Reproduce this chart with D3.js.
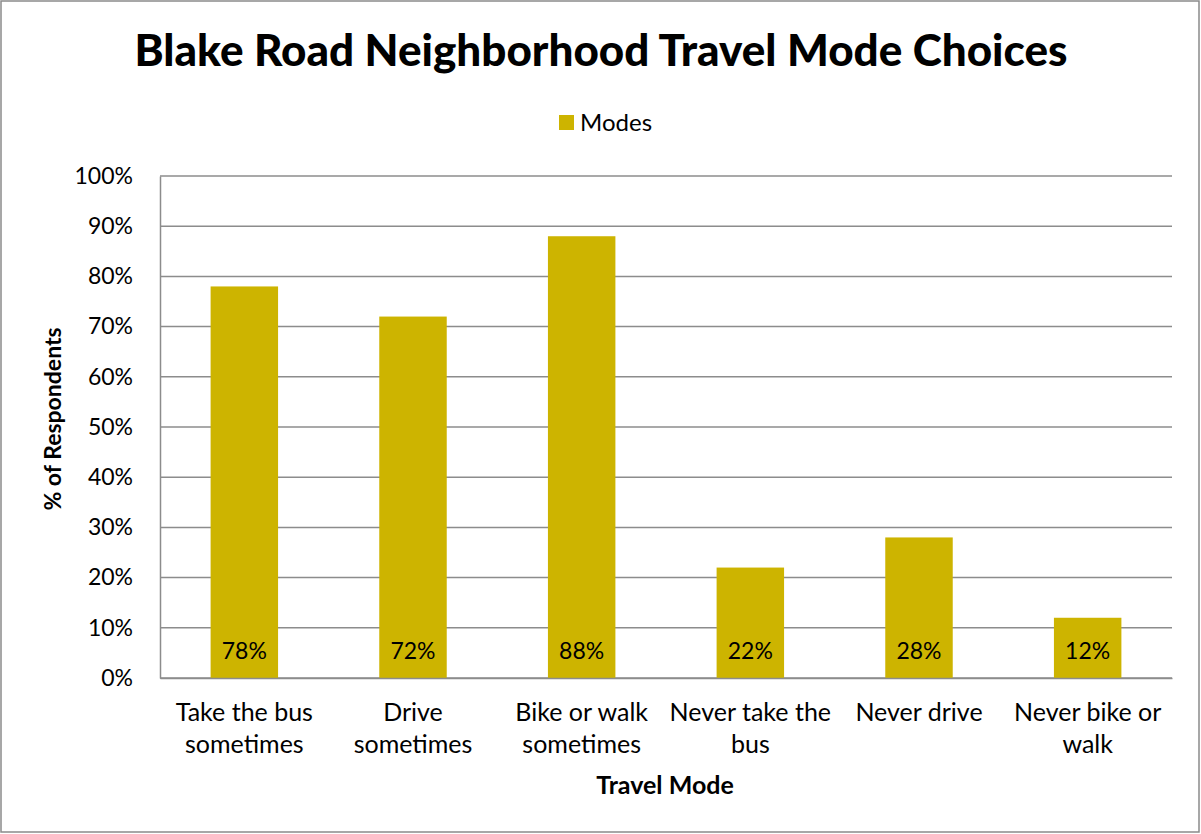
<!DOCTYPE html>
<html>
<head>
<meta charset="utf-8">
<script src="https://cdn.jsdelivr.net/npm/d3@7"></script>
<style>
  body { margin: 0; background: #fff; }
  svg { display: block; }
  text { font-family: Lato, "Open Sans", sans-serif; fill: #000; }
</style>
</head>
<body>
<div id="chart"></div>
<script>
// 数据
const categories = ['Take the bus sometimes', 'Drive sometimes', 'Bike or walk sometimes',
    'Never take the bus', 'Never drive', 'Never bike or walk'];
const categoryLines = [
    ['Take the bus', 'sometimes'],
    ['Drive', 'sometimes'],
    ['Bike or walk', 'sometimes'],
    ['Never take the', 'bus'],
    ['Never drive'],
    ['Never bike or', 'walk']
];
const modes = [78, 72, 88, 22, 28, 12];
const yTicks = [0, 10, 20, 30, 40, 50, 60, 70, 80, 90, 100];

const WIDTH = 1201;
const HEIGHT = 834;
const BAR_COLOR = '#cdb400';
const GRID_COLOR = '#8c8c8c';

const margin = { top: 176, right: 29, bottom: 156, left: 160 };
const plotW = WIDTH - margin.left - margin.right;
const plotH = HEIGHT - margin.top - margin.bottom;

const svg = d3.select('#chart').append('svg')
    .attr('width', WIDTH)
    .attr('height', HEIGHT);

// 外框
svg.append('rect')
    .attr('x', 1).attr('y', 1)
    .attr('width', WIDTH - 3).attr('height', HEIGHT - 3)
    .attr('fill', '#fff')
    .attr('stroke', '#8a8a8a')
    .attr('stroke-width', 1.5);

const x = d3.scaleBand()
    .domain(categories)
    .range([0, plotW])
    .paddingInner(0.6)
    .paddingOuter(0.3);

const y = d3.scaleLinear()
    .domain([0, 100])
    .range([plotH, 0]);

const g = svg.append('g')
    .attr('transform', `translate(${margin.left},${margin.top})`);

// 网格线
g.append('g')
    .selectAll('line')
    .data(yTicks)
    .join('line')
    .attr('x1', 0).attr('x2', plotW)
    .attr('y1', d => y(d)).attr('y2', d => y(d))
    .attr('stroke', GRID_COLOR)
    .attr('stroke-width', 1.5);

// Y轴
const yAxis = g.append('g')
    .call(d3.axisLeft(y).tickValues(yTicks).tickSize(0).tickPadding(27).tickFormat(d => d + '%'));
yAxis.select('.domain').attr('stroke', GRID_COLOR).attr('stroke-width', 1.5);
yAxis.selectAll('text')
    .style('font-family', 'Lato, sans-serif')
    .style('font-size', '23px')
    .attr('fill', '#000');

// 柱子
g.append('g')
    .selectAll('rect')
    .data(modes)
    .join('rect')
    .attr('x', (d, i) => x(categories[i]))
    .attr('y', d => y(d))
    .attr('width', x.bandwidth())
    .attr('height', d => plotH - y(d))
    .attr('fill', BAR_COLOR);

// 数值标签
g.append('g')
    .selectAll('text')
    .data(modes)
    .join('text')
    .attr('x', (d, i) => x(categories[i]) + x.bandwidth() / 2)
    .attr('y', plotH - 19)
    .attr('text-anchor', 'middle')
    .style('font-size', '23px')
    .text(d => d + '%');

// X轴
const xAxis = g.append('g')
    .attr('transform', `translate(0,${plotH})`)
    .call(d3.axisBottom(x).tickSize(0).tickFormat(''));
xAxis.select('.domain').attr('stroke', GRID_COLOR).attr('stroke-width', 1.5);

xAxis.selectAll('.tick')
    .each(function (d, i) {
        const t = d3.select(this).append('text')
            .attr('text-anchor', 'middle')
            .attr('fill', '#000')
            .style('font-family', 'Lato, sans-serif')
            .style('font-size', '25px');
        categoryLines[i].forEach((line, j) => {
            t.append('tspan')
                .attr('x', 0)
                .attr('y', 43 + j * 32)
                .text(line);
        });
    });

// 标题
svg.append('text')
    .attr('x', 601)
    .attr('y', 66)
    .attr('text-anchor', 'middle')
    .style('font-size', '44px')
    .style('font-weight', 900)
    .text('Blake Road Neighborhood Travel Mode Choices');

// 图例
svg.append('rect')
    .attr('x', 559).attr('y', 115)
    .attr('width', 15).attr('height', 15)
    .attr('fill', BAR_COLOR);
svg.append('text')
    .attr('x', 580).attr('y', 131)
    .style('font-size', '24px')
    .text('Modes');

// 坐标轴标题
svg.append('text')
    .attr('transform', 'translate(61,419) rotate(-90)')
    .attr('text-anchor', 'middle')
    .style('font-size', '23px')
    .style('font-weight', 'bold')
    .text('% of Respondents');

svg.append('text')
    .attr('x', 665).attr('y', 794)
    .attr('text-anchor', 'middle')
    .style('font-size', '25px')
    .style('font-weight', 'bold')
    .text('Travel Mode');
</script>
</body>
</html>
